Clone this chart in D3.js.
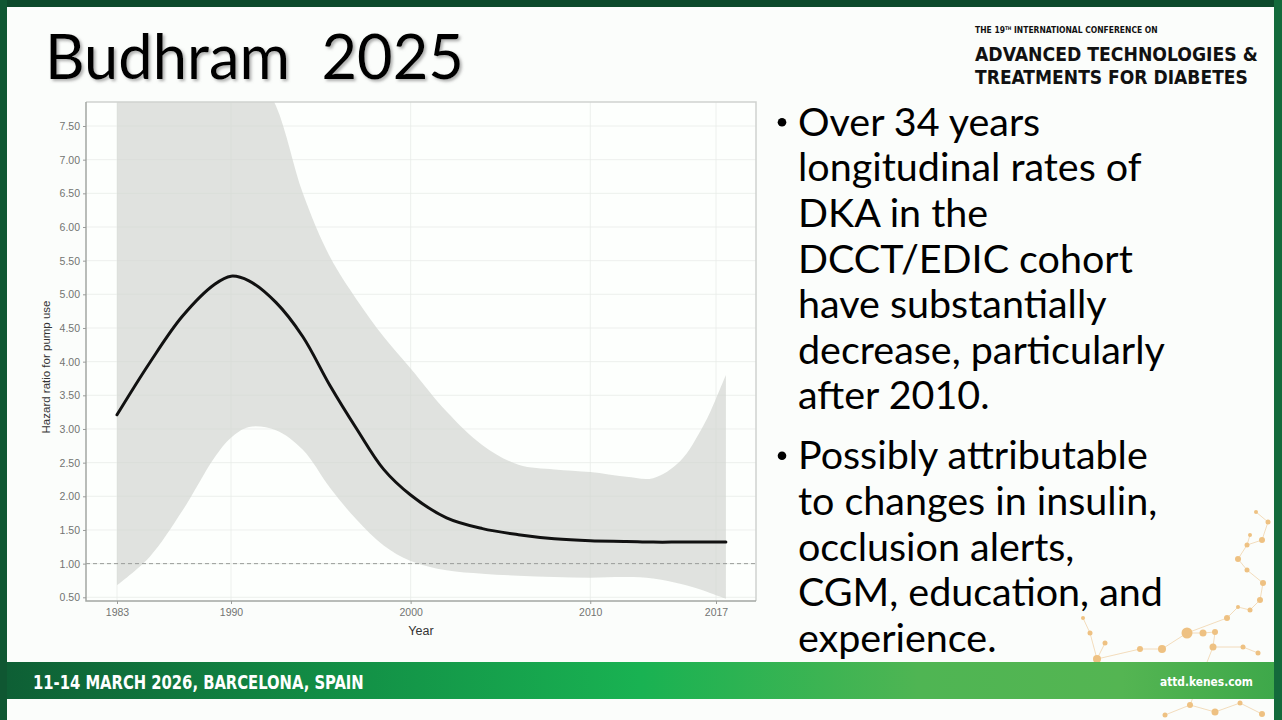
<!DOCTYPE html>
<html>
<head>
<meta charset="utf-8">
<script src="https://cdn.jsdelivr.net/npm/d3@7"></script>
<style>
  body { margin: 0; background: #fbfdfb; overflow: hidden; }
</style>
</head>
<body>
<script>
// values (hazard ratio curve + confidence band)
var years   = [1983, 1985, 1987, 1989, 1990, 1991, 1992.5, 1994, 1995.5, 1997, 1998.5, 2000, 2002, 2004, 2006, 2008, 2010, 2012, 2013.5, 2015, 2016.3, 2017, 2017.55];
var hrFit   = [3.21, 3.98, 4.67, 5.15, 5.27, 5.20, 4.88, 4.37, 3.65, 3.00, 2.40, 2.02, 1.68, 1.52, 1.43, 1.37, 1.34, 1.33, 1.32, 1.32, 1.32, 1.32, 1.32];
var ciUpper = [17.0, 14.5, 12.0, 10.0, 9.2, 8.5, 7.8, 6.5, 5.56, 4.92, 4.37, 3.90, 3.26, 2.76, 2.47, 2.40, 2.36, 2.29, 2.27, 2.52, 3.05, 3.45, 3.80];
var ciLower = [0.68, 1.10, 1.78, 2.58, 2.87, 3.03, 2.98, 2.69, 2.13, 1.65, 1.27, 1.04, 0.90, 0.85, 0.82, 0.80, 0.79, 0.80, 0.78, 0.70, 0.60, 0.53, 0.48];

var yTickValues = [0.5, 1.0, 1.5, 2.0, 2.5, 3.0, 3.5, 4.0, 4.5, 5.0, 5.5, 6.0, 6.5, 7.0, 7.5];
var xTickValues = [1983, 1990, 2000, 2010, 2017];

var bullets = [
  ["Over 34 years", "longitudinal rates of", "DKA in the", "DCCT/EDIC cohort", "have substantially", "decrease, particularly", "after 2010."],
  ["Possibly attributable", "to changes in insulin,", "occlusion alerts,", "CGM, education, and", "experience."]
];

var W = 1282, H = 720;
var svg = d3.select("body").append("svg")
  .attr("width", W)
  .attr("height", H);

var defs = svg.append("defs");

// frame
svg.append("rect").attr("width", W).attr("height", H).attr("fill", "#fbfdfb");
svg.append("rect").attr("x", 0).attr("y", 0).attr("width", W).attr("height", 7).attr("fill", "#0c4a2b");
svg.append("rect").attr("x", 0).attr("y", 0).attr("width", 7).attr("height", H).attr("fill", "#0f5732");
svg.append("rect").attr("x", 1274).attr("y", 0).attr("width", 8).attr("height", H).attr("fill", "#136a3b");

// put a text at (x,y) and squeeze it horizontally to a given width
function condensed(parent, px, py, target) {
  var t = parent.append("text").attr("x", 0).attr("y", 0);
  t.fit = function() {
    var w = t.node().getComputedTextLength();
    t.attr("transform", "translate(" + px + "," + py + ") scale(" + (target / w) + ",1)");
    return t;
  };
  return t;
}

// title
var shadow = defs.append("filter").attr("id", "shadow")
  .attr("x", "-5%").attr("y", "-20%").attr("width", "110%").attr("height", "150%");
shadow.append("feDropShadow")
  .attr("dx", 2).attr("dy", 2).attr("stdDeviation", 1.5)
  .attr("flood-color", "#777").attr("flood-opacity", 0.6);

condensed(svg, 45, 79, 419)
  .style("font-family", "Lato, 'Open Sans', sans-serif")
  .style("font-size", "62px")
  .style("white-space", "pre")
  .attr("fill", "#000")
  .attr("filter", "url(#shadow)")
  .text("Budhram  2025")
  .fit();

// conference logo
var logoFont = "'DejaVu Sans Condensed', 'DejaVu Sans', sans-serif";
var l1 = condensed(svg, 975, 33, 183)
  .style("font-family", logoFont).style("font-weight", "bold").style("font-size", "9px")
  .attr("fill", "#111");
l1.append("tspan").text("THE 19");
l1.append("tspan").attr("dy", -3).style("font-size", "5px").text("TH");
l1.append("tspan").attr("dy", 3).text(" INTERNATIONAL CONFERENCE ON");
l1.fit();

condensed(svg, 975, 61, 283)
  .style("font-family", logoFont).style("font-weight", "bold").style("font-size", "19.5px")
  .attr("fill", "#111").text("ADVANCED TECHNOLOGIES &").fit();
condensed(svg, 975, 84, 273)
  .style("font-family", logoFont).style("font-weight", "bold").style("font-size", "19.5px")
  .attr("fill", "#111").text("TREATMENTS FOR DIABETES").fit();

// ---- chart ----
var panel = {left: 86, right: 756, top: 102, bottom: 601};

var x = d3.scaleLinear()
  .domain([1983, 1990, 2017])
  .range([117, 231, 716]);

var y = d3.scaleLinear()
  .domain([0.5, 7.5])
  .range([597.3, 126]);

var chart = svg.append("g");

chart.append("rect")
  .attr("x", panel.left).attr("y", panel.top)
  .attr("width", panel.right - panel.left).attr("height", panel.bottom - panel.top)
  .attr("fill", "#fdfffd");

defs.append("clipPath").attr("id", "panelClip")
  .append("rect")
  .attr("x", panel.left).attr("y", panel.top)
  .attr("width", panel.right - panel.left).attr("height", panel.bottom - panel.top);

// grid
chart.append("g").selectAll("line").data(yTickValues).enter().append("line")
  .attr("x1", panel.left).attr("x2", panel.right)
  .attr("y1", function(d) { return y(d); }).attr("y2", function(d) { return y(d); })
  .attr("stroke", "#e9ece9").attr("stroke-width", 0.8);
chart.append("g").selectAll("line").data(xTickValues).enter().append("line")
  .attr("y1", panel.top).attr("y2", panel.bottom)
  .attr("x1", function(d) { return x(d); }).attr("x2", function(d) { return x(d); })
  .attr("stroke", "#e9ece9").attr("stroke-width", 0.8);

var rows = years.map(function(yr, i) {
  return {year: yr, fit: hrFit[i], lo: ciLower[i], hi: ciUpper[i]};
});

var smooth = d3.curveCatmullRom.alpha(0.5);

var band = d3.area()
  .x(function(d) { return x(d.year); })
  .y0(function(d) { return y(d.lo); })
  .y1(function(d) { return y(d.hi); })
  .curve(smooth);

chart.append("path")
  .datum(rows)
  .attr("clip-path", "url(#panelClip)")
  .attr("d", band)
  .attr("fill", "#d3d6d2")
  .attr("fill-opacity", 0.7);

// reference line at HR = 1
chart.append("line")
  .attr("x1", panel.left).attr("x2", panel.right)
  .attr("y1", y(1)).attr("y2", y(1))
  .attr("stroke", "#9a9c9a")
  .attr("stroke-width", 1)
  .attr("stroke-dasharray", "4,3");

var line = d3.line()
  .x(function(d) { return x(d.year); })
  .y(function(d) { return y(d.fit); })
  .curve(smooth);

chart.append("path")
  .datum(rows)
  .attr("d", line)
  .attr("fill", "none")
  .attr("stroke", "#111")
  .attr("stroke-width", 3)
  .attr("stroke-linecap", "round");

// panel border
chart.append("path")
  .attr("d", "M" + panel.left + "," + panel.top + "H" + panel.right + "V" + panel.bottom)
  .attr("fill", "none").attr("stroke", "#cfd2cf").attr("stroke-width", 1.5);
chart.append("path")
  .attr("d", "M" + panel.left + "," + panel.top + "V" + panel.bottom + "H" + panel.right)
  .attr("fill", "none").attr("stroke", "#a3a6a3").attr("stroke-width", 1.5);

// axes
var tickFont = "'Liberation Sans', Arial, sans-serif";

var yAxis = chart.append("g")
  .attr("transform", "translate(" + panel.left + ",0)")
  .call(d3.axisLeft(y).tickValues(yTickValues).tickFormat(d3.format(".2f")).tickSize(3).tickPadding(3).tickSizeOuter(0));
yAxis.select(".domain").remove();

var xAxis = chart.append("g")
  .attr("transform", "translate(0," + panel.bottom + ")")
  .call(d3.axisBottom(x).tickValues(xTickValues).tickFormat(d3.format("d")).tickSize(3).tickPadding(5).tickSizeOuter(0));
xAxis.select(".domain").remove();

chart.selectAll(".tick line").attr("stroke", "#9a9c9a");
chart.selectAll(".tick text")
  .attr("fill", "#727472")
  .style("font-family", tickFont)
  .style("font-size", "10.5px");

chart.append("text")
  .attr("transform", "translate(50,367) rotate(-90)")
  .attr("text-anchor", "middle")
  .style("font-family", tickFont)
  .style("font-size", "11.5px")
  .attr("fill", "#333")
  .text("Hazard ratio for pump use");

chart.append("text")
  .attr("x", 421).attr("y", 635)
  .attr("text-anchor", "middle")
  .style("font-family", tickFont)
  .style("font-size", "12.5px")
  .attr("fill", "#333")
  .text("Year");

// ---- bullet text ----
var bulletFont = "Lato, 'Open Sans', sans-serif";
var bulletStarts = [135.7, 469.3];
var lineGap = 45.6;

var probe = svg.append("text")
  .style("font-family", bulletFont).style("font-size", "36px")
  .text("decrease, particularly");
var probeW = probe.node().getComputedTextLength();
probe.remove();
var bulletSize = 36 * 367 / probeW;

bullets.forEach(function(lines, b) {
  var g = svg.append("g");
  g.append("circle")
    .attr("cx", 782).attr("cy", bulletStarts[b] - 13.5)
    .attr("r", 4.3).attr("fill", "#000");
  g.selectAll("text").data(lines).enter().append("text")
    .attr("x", 798)
    .attr("y", function(d, i) { return bulletStarts[b] + i * lineGap; })
    .style("font-family", bulletFont)
    .style("font-size", bulletSize + "px")
    .attr("fill", "#000")
    .text(function(d) { return d; });
});

// ---- decorative network dots (bottom right) ----
var decoDots = [
  [1262, 540, 3], [1247, 545, 2.5], [1238, 559, 3], [1247, 570, 2.5], [1263, 583, 3],
  [1260, 600, 3], [1250, 610, 2.5], [1238, 607, 2], [1227, 618, 3], [1187, 633, 5.5],
  [1203, 633, 3.5], [1215, 632, 3], [1213, 647, 3.5], [1162, 649, 4], [1140, 649, 3],
  [1097, 659, 4], [1090, 633, 2.5], [1105, 643, 2.5], [1083, 618, 2], [1243, 647, 2.5],
  [1258, 653, 2.5], [1250, 535, 2], [1268, 522, 2.5], [1256, 512, 2],
  [1190, 705, 3], [1215, 712, 3.5], [1240, 703, 2.5], [1262, 714, 3], [1165, 715, 2.5]
];
var deco = svg.append("g").attr("opacity", 0.7);
decoDots.forEach(function(d, i) {
  if (i > 0) {
    var best = null, bd = 1e9;
    for (var j = 0; j < i; j++) {
      var dd = Math.hypot(decoDots[j][0] - d[0], decoDots[j][1] - d[1]);
      if (dd < bd) { bd = dd; best = decoDots[j]; }
    }
    deco.append("line")
      .attr("x1", d[0]).attr("y1", d[1]).attr("x2", best[0]).attr("y2", best[1])
      .attr("stroke", "#ecc38a").attr("stroke-width", 0.8);
  }
});
deco.selectAll("circle").data(decoDots).enter().append("circle")
  .attr("cx", function(d) { return d[0]; })
  .attr("cy", function(d) { return d[1]; })
  .attr("r", function(d) { return d[2]; })
  .attr("fill", "#e9a94f");

// ---- footer band ----
var grad = defs.append("linearGradient").attr("id", "footGrad")
  .attr("x1", "0%").attr("x2", "100%").attr("y1", "0%").attr("y2", "0%");
[[0, "#0e5f35"], [0.25, "#128d45"], [0.5, "#19b252"], [0.72, "#4fb553"], [0.88, "#54b552"], [1, "#3ea84a"]]
  .forEach(function(s) {
    grad.append("stop").attr("offset", s[0]).attr("stop-color", s[1]);
  });

svg.append("rect")
  .attr("x", 7).attr("y", 662).attr("width", 1267).attr("height", 37)
  .attr("fill", "url(#footGrad)");

condensed(svg, 33, 689, 331)
  .style("font-family", logoFont).style("font-weight", "bold").style("font-size", "19px")
  .attr("fill", "#fff")
  .text("11-14 MARCH 2026, BARCELONA, SPAIN").fit();

condensed(svg, 1160, 686, 93)
  .style("font-family", logoFont).style("font-weight", "bold").style("font-size", "13px")
  .attr("fill", "#fff")
  .text("attd.kenes.com").fit();
</script>
</body>
</html>
